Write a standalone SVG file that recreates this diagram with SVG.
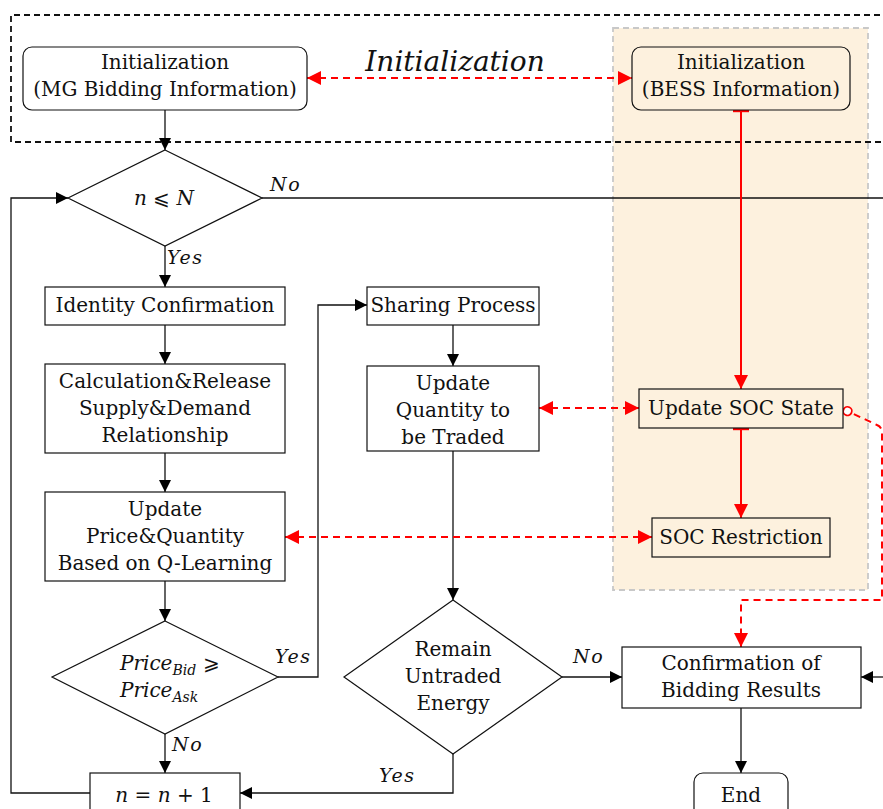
<svg xmlns="http://www.w3.org/2000/svg" width="883" height="809" viewBox="0 0 883 809">
<style>
.t{font-family:"DejaVu Serif",serif;font-size:20px;fill:#111;text-anchor:middle}
.it{font-family:"DejaVu Serif",serif;font-style:italic;font-size:19px;letter-spacing:1.5px;fill:#111}
.box{fill:#fff;stroke:#111;stroke-width:1.2}
.sbox{fill:#fdf1de;stroke:#111;stroke-width:1.2}
.ln{fill:none;stroke:#111;stroke-width:1.3}
.rd{fill:none;stroke:#f00;stroke-width:2;stroke-dasharray:7,5}
.rs{fill:none;stroke:#f00;stroke-width:2}
</style>
<defs>
<marker id="ab" markerUnits="userSpaceOnUse" markerWidth="13" markerHeight="12" refX="12" refY="6" orient="auto"><path d="M0,0 L12,6 L0,12 z" fill="#000"/></marker>
<marker id="ar" markerUnits="userSpaceOnUse" markerWidth="15" markerHeight="14" refX="14" refY="7" orient="auto-start-reverse"><path d="M0,0 L14,7 L0,14 z" fill="#f00"/></marker>
<marker id="bar" markerUnits="userSpaceOnUse" markerWidth="4" markerHeight="18" refX="1" refY="8" orient="auto"><path d="M1,0 L1,16" stroke="#f00" stroke-width="2.4"/></marker>
<marker id="circ" markerUnits="userSpaceOnUse" markerWidth="12" markerHeight="12" refX="1" refY="6" orient="auto"><circle cx="6" cy="6" r="4.3" fill="#fff" stroke="#f00" stroke-width="1.8"/></marker>
</defs>

<!-- background regions -->
<rect x="613" y="28" width="255" height="562" fill="#fdf1de" stroke="#c8c8c8" stroke-width="1.8" stroke-dasharray="6,4"/>
<path d="M890,15 L11,15 L11,142 L890,142" fill="none" stroke="#111" stroke-width="1.8" stroke-dasharray="6,4"/>
<text x="455" y="71" style="font-family:'DejaVu Serif',serif;font-style:italic;font-size:28px;fill:#111;text-anchor:middle">Initialization</text>

<g id="connectors">
<path class="ln" d="M165,110 L165,150" marker-end="url(#ab)"/>
<path class="ln" d="M262,198 L883,198"/>
<path class="ln" d="M90,793 L11,793 L11,198 L68,198" marker-end="url(#ab)"/>
<path class="ln" d="M165,246 L165,287" marker-end="url(#ab)"/>
<path class="ln" d="M165,325 L165,364" marker-end="url(#ab)"/>
<path class="ln" d="M165,453 L165,492" marker-end="url(#ab)"/>
<path class="ln" d="M165,581 L165,621" marker-end="url(#ab)"/>
<path class="ln" d="M165,734 L165,773" marker-end="url(#ab)"/>
<path class="ln" d="M278,677 L318,677 L318,305 L367,305" marker-end="url(#ab)"/>
<path class="ln" d="M453,325 L453,366" marker-end="url(#ab)"/>
<path class="ln" d="M453,451 L453,600" marker-end="url(#ab)"/>
<path class="ln" d="M562,677 L622,677" marker-end="url(#ab)"/>
<path class="ln" d="M453,754 L453,793 L240,793" marker-end="url(#ab)"/>
<path class="ln" d="M883,677 L861,677" marker-end="url(#ab)"/>
<path class="ln" d="M741,708 L741,773" marker-end="url(#ab)"/>
<path class="rd" d="M307,78 L632,78" marker-start="url(#ar)" marker-end="url(#ar)"/>
<path class="rd" d="M539,408 L639,408" marker-start="url(#ar)" marker-end="url(#ar)"/>
<path class="rd" d="M285,537 L652,537" marker-start="url(#ar)" marker-end="url(#ar)"/>
<path class="rs" d="M741,111 L741,389" marker-start="url(#bar)" marker-end="url(#ar)"/>
<path class="rs" d="M741,429 L741,518" marker-start="url(#bar)" marker-end="url(#ar)"/>
<path class="rd" d="M843,409 L877,425 Q882,427 882,433 L882,600 L741,600 L741,647" marker-start="url(#circ)" marker-end="url(#ar)"/>
<text class="it" x="270" y="191">No</text>
<text class="it" x="167" y="264">Yes</text>
<text class="it" x="275" y="663">Yes</text>
<text class="it" x="172" y="751">No</text>
<text class="it" x="573" y="663">No</text>
<text class="it" x="379" y="782">Yes</text>
</g>

<g id="init-mg"><rect class="box" x="23" y="47" width="284" height="63" rx="9"/><text class="t" x="165" y="69">Initialization</text><text class="t" x="165" y="96">(MG Bidding Information)</text></g>
<g id="init-bess"><rect class="sbox" x="632" y="47" width="218" height="63" rx="9"/><text class="t" x="741" y="69">Initialization</text><text class="t" x="741" y="96">(BESS Information)</text></g>
<g id="cond-n"><path class="box" d="M165,150 L262,198 L165,246 L68,198 z"/><text class="t" x="164" y="205" style="font-style:italic">n <tspan font-style="normal">⩽</tspan> N</text></g>
<g id="identity"><rect class="box" x="45" y="287" width="240" height="38"/><text class="t" x="165" y="312">Identity Confirmation</text></g>
<g id="calc"><rect class="box" x="45" y="364" width="240" height="89"/><text class="t" x="165" y="388">Calculation&amp;Release</text><text class="t" x="165" y="415">Supply&amp;Demand</text><text class="t" x="165" y="442">Relationship</text></g>
<g id="update-price"><rect class="box" x="45" y="492" width="240" height="89"/><text class="t" x="165" y="516">Update</text><text class="t" x="165" y="543">Price&amp;Quantity</text><text class="t" x="165" y="570">Based on Q-Learning</text></g>
<g id="cond-price"><path class="box" d="M165,621 L278,677 L165,734 L52,677 z"/><text class="t" x="120" y="670" style="font-style:italic;text-anchor:start">Price<tspan font-size="14" dy="5">Bid</tspan><tspan font-style="normal" dy="-5"> ⩾</tspan></text><text class="t" x="120" y="697" style="font-style:italic;text-anchor:start">Price<tspan font-size="14" dy="5">Ask</tspan></text></g>
<g id="n-inc"><rect class="box" x="90" y="773" width="150" height="45"/><text class="t" x="164" y="802" style="font-style:italic">n <tspan font-style="normal">= </tspan>n<tspan font-style="normal"> + 1</tspan></text></g>
<g id="sharing"><rect class="box" x="367" y="287" width="172" height="38"/><text class="t" x="453" y="312">Sharing Process</text></g>
<g id="update-qty"><rect class="box" x="367" y="366" width="172" height="85"/><text class="t" x="453" y="390">Update</text><text class="t" x="453" y="417">Quantity to</text><text class="t" x="453" y="444">be Traded</text></g>
<g id="cond-remain"><path class="box" d="M453,600 L562,677 L453,754 L344,677 z"/><text class="t" x="453" y="656">Remain</text><text class="t" x="453" y="683">Untraded</text><text class="t" x="453" y="710">Energy</text></g>
<g id="soc-state"><rect class="sbox" x="639" y="389" width="204" height="39"/><text class="t" x="741" y="415">Update SOC State</text></g>
<g id="soc-restr"><rect class="sbox" x="652" y="518" width="178" height="39"/><text class="t" x="741" y="544">SOC Restriction</text></g>
<g id="confirm"><rect class="box" x="622" y="647" width="239" height="61"/><text class="t" x="741" y="670">Confirmation of</text><text class="t" x="741" y="697">Bidding Results</text></g>
<g id="end"><rect class="box" x="694" y="773" width="94" height="45" rx="9"/><text class="t" x="741" y="802">End</text></g>
</svg>
